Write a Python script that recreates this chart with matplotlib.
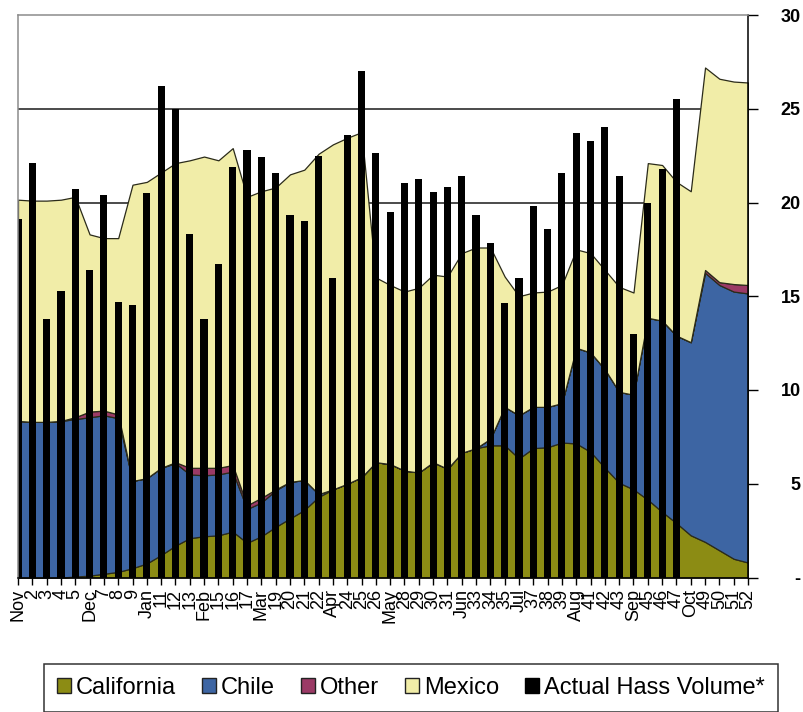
import numpy as np
import matplotlib
matplotlib.use('Agg')
import matplotlib.pyplot as plt
from matplotlib.patches import Patch

plt.rcParams['font.family'] = ['Liberation Sans', 'DejaVu Sans']

week_labels = ['Nov', '2', '3', '4', '5', 'Dec', '7', '8', '9', 'Jan',
               '11', '12', '13', 'Feb', '15', '16', '17', 'Mar', '19', '20',
               '21', '22', 'Apr', '24', '25', '26', 'May', '28', '29', '30',
               '31', 'Jun', '33', '34', '35', 'Jul', '37', '38', '39', 'Aug',
               '41', '42', '43', 'Sep', '45', '46', '47', 'Oct', '49', '50',
               '51', '52']

# weekly supply by origin (million lbs)
california = [0, 0, 0, 0, 0.05, 0.1, 0.2, 0.3, 0.5, 0.75,
              1.2, 1.7, 2.1, 2.2, 2.25, 2.45, 1.85, 2.2, 2.7, 3.15,
              3.6, 4.3, 4.7, 5.0, 5.35, 6.15, 6.05, 5.7, 5.6, 6.15,
              5.8, 6.65, 6.9, 7.05, 7.05, 6.35, 6.9, 6.95, 7.2, 7.15,
              6.7, 5.85, 5.05, 4.7, 4.15, 3.5, 2.9, 2.25, 1.9, 1.45,
              1.0, 0.8]
chile = [8.35, 8.3, 8.3, 8.35, 8.4, 8.45, 8.45, 8.2, 4.65, 4.55,
         4.65, 4.4, 3.4, 3.25, 3.25, 3.2, 1.8, 1.8, 1.95, 1.95,
         1.6, 0.15, 0, 0, 0, 0, 0, 0, 0, 0,
         0, 0, 0, 0.35, 2.05, 2.3, 2.2, 2.15, 2.1, 5.1,
         5.3, 5.25, 4.85, 5.05, 9.7, 10.2, 10.0, 10.3, 14.35, 14.15,
         14.25, 14.35]
other = [0, 0, 0, 0, 0.1, 0.3, 0.25, 0.2, 0, 0,
         0, 0.05, 0.35, 0.4, 0.35, 0.35, 0.2, 0.25, 0.05, 0,
         0, 0, 0, 0, 0, 0, 0, 0, 0, 0,
         0, 0, 0, 0, 0, 0, 0, 0, 0, 0,
         0, 0, 0, 0, 0, 0, 0, 0, 0.15, 0.15,
         0.4, 0.45]
mexico = [11.8, 11.8, 11.8, 11.8, 11.75, 9.45, 9.2, 9.4, 15.8, 15.8,
          15.75, 15.95, 16.4, 16.6, 16.4, 16.9, 16.45, 16.35, 16.1, 16.4,
          16.55, 18.15, 18.4, 18.45, 18.4, 9.85, 9.55, 9.55, 9.85, 10.0,
          10.25, 10.65, 10.7, 10.2, 6.95, 6.35, 6.1, 6.15, 6.3, 5.25,
          5.3, 5.3, 5.6, 5.45, 8.25, 8.3, 8.2, 8.05, 10.8, 10.85,
          10.8, 10.8]
actual = [19.1, 22.1, 13.8, 15.3, 20.7, 16.4, 20.4, 14.7, 14.55, 20.5,
          26.2, 25.0, 18.3, 13.8, 16.7, 21.9, 22.8, 22.45, 21.6, 19.35,
          19.0, 22.5, 16.0, 23.6, 27.0, 22.65, 19.5, 21.05, 21.25, 20.55,
          20.85, 21.4, 19.35, 17.85, 14.65, 16.0, 19.8, 18.6, 21.6, 23.7,
          23.3, 24.05, 21.4, 13.0, 20.0, 21.8, 25.5]

series_names = ['California', 'Chile', 'Other', 'Mexico']
colors = ['#8c8c14', '#3d65a3', '#9b3a66', '#f1eda8']

x = np.arange(1, len(week_labels) + 1)

fig = plt.figure(figsize=(8.04, 7.12), dpi=100)
ax = fig.add_axes([18 / 804, 1 - 577.5 / 712, 730 / 804, 562.5 / 712])

for yv in range(5, 30, 5):
    ax.axhline(yv, color='#1a1a1a', lw=1.1, zorder=0.5)

ax.stackplot(x, california, chile, other, mexico, colors=colors,
             edgecolor='#2b2b1a', linewidth=0.9, zorder=1)
ax.bar(x[:len(actual)], actual, width=0.5, color='black', zorder=2)

ax.set_xlim(1, 52)
ax.set_ylim(0, 30)

ax.set_xticks(x)
ax.set_xticklabels(week_labels, rotation=90, fontsize=13)
ax.tick_params(axis='x', direction='out', length=5, width=1, pad=3)

ax.yaxis.tick_right()
ax.set_yticks(range(0, 31, 5))
ax.set_yticklabels(['-'] + [str(v) for v in range(5, 31, 5)],
                   fontsize=13, fontweight='bold', ha='right')
ax.tick_params(axis='y', direction='out', length=7, width=1, pad=31)

ax.spines['left'].set_color('#8c8c8c')
ax.spines['top'].set_color('#8c8c8c')
ax.spines['right'].set_color('black')
ax.spines['bottom'].set_color('black')
for sp in ax.spines.values():
    sp.set_linewidth(1.1)

handles = [Patch(facecolor=c, edgecolor='#222222', linewidth=1) for c in colors]
handles.append(Patch(facecolor='black', edgecolor='black'))
leg = fig.legend(handles, series_names + ['Actual Hass Volume*'],
                 loc='center', bbox_to_anchor=(411 / 804, 1 - 688 / 712),
                 ncol=5, fontsize=17, frameon=True, fancybox=False,
                 handlelength=0.6, handleheight=0.6, handletextpad=0.2,
                 columnspacing=1.1, borderpad=0.55)
leg.get_frame().set_edgecolor('black')
leg.get_frame().set_linewidth(1.1)

fig.savefig('out.png', dpi=100)
